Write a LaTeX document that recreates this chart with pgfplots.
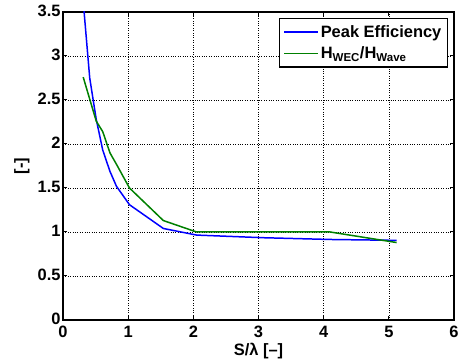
\documentclass[border=0pt]{standalone}
\usepackage{fontspec}
\setmainfont{Liberation Sans}
\usepackage{pgfplots}
\pgfplotsset{compat=1.18}
\definecolor{mblue}{rgb}{0,0,1}
\definecolor{mgreen}{rgb}{0,0.5,0}
\begin{document}
\begin{tikzpicture}
\begin{axis}[
  name=ax,
  scale only axis,
  width=391bp, height=308bp,
  xmin=0, xmax=6, ymin=0, ymax=3.5,
  xtick={0,1,2,3,4,5,6},
  ytick={0,0.5,1,1.5,2,2.5,3,3.5},
  yticklabels={0,0.5,1,1.5,2,2.5,3,3.5},
  xticklabels={0,1,2,3,4,5,6},
  tick align=inside,
  major tick length=4bp,
  tick style={black, line width=1pt},
  axis line style={line width=1.5pt},
  grid=major,
  grid style={dotted, black, line width=0.6pt},
  font=\fontsize{16.5}{18}\selectfont\bfseries,
  ticklabel style={font=\fontsize{16.5}{18}\selectfont\bfseries},
  yticklabel style={xshift=1bp, yshift=1bp},
  xticklabel style={yshift=-3bp},
  xlabel={S/λ [--]},
  ylabel={[-]},
  every axis x label/.style={at={(axis description cs:0.5,-0.1)}, anchor=center},
  every axis y label/.style={at={(axis description cs:-0.105,0.5)}, anchor=center, rotate=90},
  legend style={at={(0.985,0.982)}, anchor=north east, draw=black, line width=1.5pt,
    font=\fontsize{16.5}{18}\selectfont\bfseries, inner xsep=4bp, inner ysep=5bp,
    row sep=4bp},
  legend image code/.code={\draw[#1, line width=1.5pt] (0bp,0bp) -- (34bp,0bp);},
  legend cell align=left,
  clip=true,
]
\addplot[mblue, line width=1.5pt] coordinates {
 (0.31,3.62) (0.41,2.75) (0.51,2.28) (0.61,1.93) (0.72,1.69) (0.82,1.52)
 (1.02,1.31) (1.54,1.04) (2.05,0.965) (3.07,0.935) (4.10,0.915) (5.12,0.905)
};
\addlegendentry{Peak Efficiency}
\addplot[mgreen, line width=1.5pt] coordinates {
 (0.31,2.76) (0.41,2.51) (0.51,2.26) (0.61,2.14) (0.72,1.90) (0.82,1.77)
 (1.02,1.50) (1.54,1.13) (2.05,1.00) (3.07,1.00) (4.10,1.00) (5.12,0.88)
};
\addlegendentry{H\textsubscript{WEC}/H\textsubscript{Wave}}
\end{axis}
\pgfresetboundingbox
\path ([shift={(-63bp,-43bp)}]ax.south west) rectangle ([shift={(12bp,12bp)}]ax.north east);
\end{tikzpicture}
\end{document}
